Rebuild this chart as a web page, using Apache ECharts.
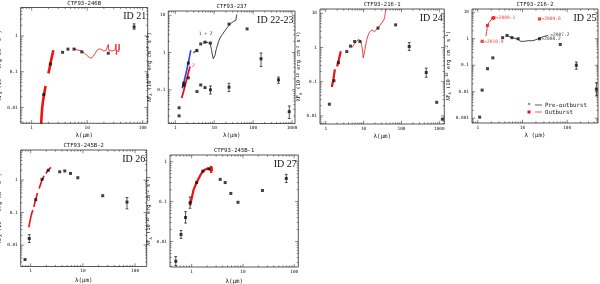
<!DOCTYPE html>
<html><head><meta charset="utf-8">
<script src="https://cdn.jsdelivr.net/npm/echarts@6/dist/echarts.min.js"></script>
<style>html,body{margin:0;padding:0;background:#fff}#c{width:600px;height:284px}</style>
</head><body><div id="c"></div>
<script>
// ================= DATA =================
const PANEL_TITLES = ['CTF93-246B','CTF93-237','CTF93-216-1','CTF93-216-2','CTF93-245B-2','CTF93-245B-1'];
const PANEL_IDS = ['ID 21','ID 22-23','ID 24','ID 25','ID 26','ID 27'];
const X_NAMES = ['λ(μm)','λ(μm)','λ(μm)','λ (μm)','λ(μm)','λ(μm)'];

// ID 21
const ID21_WL = [1.65, 2.17, 3.6, 4.5, 5.8, 8.0, 24, 70];
const ID21_F  = [0.023, 0.165, 0.35, 0.43, 0.43, 0.36, 0.33, 1.8];
const ID21_ERR = [[70, 1.55, 2.2]];
const ID21_NIRA_WL = [1.48,1.5,1.52,1.55,1.6,1.66,1.72,1.78];
const ID21_NIRA_F  = [0.0035,0.005,0.007,0.01,0.015,0.022,0.03,0.04];
const ID21_NIRB_WL = [2.0,2.08,2.16,2.24,2.32,2.4,2.45];
const ID21_NIRB_F  = [0.09,0.12,0.16,0.21,0.27,0.34,0.4];
const ID21_IRS_WL = [5.5,6,6.5,7,7.5,8,8.5,9,9.5,10,10.5,11,11.5,12,12.5,13,14,15,16.5,18,20,22,23.5,24,24.5,26,28,30,32,33,33.5,34,35,36,37,37.5,38];
const ID21_IRS_F  = [0.46,0.43,0.42,0.40,0.41,0.38,0.36,0.33,0.30,0.28,0.26,0.25,0.24,0.24,0.25,0.27,0.33,0.40,0.44,0.42,0.38,0.40,0.42,0.58,0.40,0.39,0.38,0.40,0.41,0.60,0.30,0.40,0.38,0.42,0.36,0.60,0.40];

// ID 22-23
const ID22_WL = [1.25,1.25,1.65,1.65,2.17,2.17,3.6,4.5,5.8,8.0,3.6,4.5,5.8,8.0,24,24,70,160,450,850];
const ID22_F  = [0.033,0.02,0.15,0.13,0.52,0.21,1.12,1.7,1.9,1.8,0.09,0.135,0.115,0.1,5.8,0.118,4.3,0.68,0.185,0.026];
const ID22_ERR = [[8.0,0.077,0.127],[24,0.09,0.15],[160,0.42,0.97],[450,0.15,0.22],[850,0.017,0.037]];
const ID22_IRS_WL = [5.2,5.6,6.0,6.5,7.0,7.5,8.0,8.5,9.0,9.5,10,10.5,11.2,12,13,14.5,16,18,20,22,24,26,28,31,34,36,38,38];
const ID22_IRS_F  = [1.8,1.75,1.9,1.7,1.85,1.75,1.6,1.2,0.85,0.68,0.65,0.85,1.2,1.5,2.0,2.6,3.0,3.6,4.2,4.8,5.4,5.9,6.3,6.8,7.1,7.3,7.3,10.5];
const ID22_BLUE_WL = [1.5,1.6,1.7,1.8,1.9,2.0,2.1,2.2,2.3,2.4,2.5];
const ID22_BLUE_F  = [0.11,0.14,0.18,0.23,0.29,0.37,0.47,0.59,0.74,0.93,1.15];
const ID22_BLUE2_WL = [2.9,3.1,3.3,3.5,3.7];
const ID22_BLUE2_F  = [0.97,1.05,1.1,1.15,1.24];
const ID22_RED_WL = [1.46,1.6,1.75,1.9,2.05,2.2,2.39];
const ID22_RED_F  = [0.06,0.085,0.12,0.17,0.23,0.31,0.42];
const ID22_NOTES = [[6.0, 3.2, '1 + 2', '#000'], [2.9, 0.45, '2', '#f01010']];

// ID 24
const ID24_WL = [1.25,1.65,2.17,3.6,4.5,5.8,8.0,24,70,160,450,850,1200];
const ID24_F  = [0.022,0.107,0.36,0.76,1.1,1.5,1.5,3.7,4.6,1.07,0.186,0.025,0.008];
const ID24_ERR = [[160,0.82,1.4],[450,0.135,0.25]];
const ID24_NIRA_WL = [1.45,1.5,1.55,1.6,1.65,1.7,1.75];
const ID24_NIRA_F  = [0.07,0.085,0.1,0.12,0.15,0.19,0.23];
const ID24_NIRB_WL = [2.0,2.1,2.2,2.3,2.4,2.5];
const ID24_NIRB_F  = [0.28,0.35,0.42,0.52,0.64,0.78];
const ID24_IRS_WL = [5.0,5.5,6.0,6.5,7.0,7.5,8.0,8.5,9.0,9.5,9.8,10.2,10.6,11.2,12,13,14,15,16.5,18,19.5,21,22.5,24,26,28,30,32,34,36,37,38];
const ID24_IRS_F  = [1.0,1.2,1.35,1.5,1.65,1.75,1.75,1.5,1.1,0.7,0.5,0.55,0.75,1.1,1.6,2.2,2.7,3.0,3.3,3.2,2.9,3.1,3.5,3.8,4.2,4.6,5.2,5.8,6.4,7.5,9.5,13];

// ID 25
const ID25_PRE_WL = [1.1,1.25,1.65,2.17,3.6,4.5,5.8,8.0,24,70,160,450];
const ID25_PRE_F  = [0.0011,0.0115,0.074,0.19,1.1,1.33,1.1,1.0,1.0,0.61,0.1,0.0125];
const ID25_ERR = [[160,0.071,0.133],[450,0.007,0.022]];
const ID25_IRS_WL = [4.8,5.4,5.9,6.6,7.3,8.0,8.6,9.2,9.8,10.5,11.3,12,12.7,13.8,15,16,17,18.5,20,21.5,23,25,27.5,30,32.7,35,37.6];
const ID25_IRS_F  = [1.3,1.15,1.1,1.05,1.0,0.95,0.89,0.8,0.71,0.8,0.89,0.82,0.75,0.85,0.89,0.84,0.82,0.88,0.94,0.97,1.0,1.08,1.19,1.22,1.26,1.3,1.35];
const ID25_OUT_WL = [1.25,1.65,2.17,2.3,24];
const ID25_OUT_F  = [0.8,3.2,6.0,6.2,5.6];
const ID25_OUTLINE_WL = [1.52,1.58,1.65,1.8,2.0,2.17];
const ID25_OUTLINE_F  = [1.25,1.9,3.2,4.2,5.3,6.0];
const ID25_NOTES_BLACK = [[37.6,1.4,'=2007.2'],[24,1.0,'=2008.2']];
const ID25_NOTES_RED = [[2.3,6.1,'=2009.1'],[24,5.6,'=2009.8'],[1.25,0.8,'=2010.9']];
const LEGEND_ITEMS = ['Pre-outburst','Outburst'];

// ID 26
const ID26_WL = [0.78,0.94,1.25,1.65,2.17,3.6,4.5,5.8,8.0,24,70];
const ID26_F  = [0.0036,0.016,0.25,1.05,2.0,1.8,1.9,1.6,1.18,0.33,0.21];
const ID26_ERR = [[0.94,0.012,0.021],[70,0.13,0.29]];
const ID26_SEG1_WL = [0.92,0.96,1.0,1.05,1.1];
const ID26_SEG1_F  = [0.035,0.05,0.07,0.095,0.12];
const ID26_SEG2_WL = [1.15,1.2,1.25,1.3,1.35];
const ID26_SEG2_F  = [0.15,0.2,0.25,0.32,0.4];
const ID26_SEG3_WL = [1.45,1.55,1.65,1.75,1.8];
const ID26_SEG3_F  = [0.55,0.75,1.0,1.2,1.35];
const ID26_SEG4_WL = [1.95,2.05,2.15,2.25,2.35,2.45];
const ID26_SEG4_F  = [1.6,1.8,2.0,2.15,2.3,2.45];

// ID 27
const ID27_WL = [0.49,0.62,0.76,0.93,1.25,1.65,2.17,3.6,4.5,5.8,8.0,24,70];
const ID27_F  = [0.0032,0.015,0.04,0.094,0.3,0.58,0.66,0.36,0.3,0.16,0.096,0.19,0.38];
const ID27_ERR = [[0.49,0.0025,0.0042],[0.62,0.012,0.019],[0.76,0.029,0.056],[0.93,0.068,0.13],[70,0.3,0.48]];
const ID27_RED_WL = [0.93,1.0,1.08,1.16,1.25,1.35,1.45,1.57,1.69,1.8,1.95,2.11,2.25,2.33,2.38,2.41,2.45,2.48];
const ID27_RED_F  = [0.08,0.12,0.19,0.24,0.3,0.37,0.44,0.52,0.58,0.63,0.66,0.68,0.66,0.62,0.78,0.52,0.75,0.58];

// ================= LAYOUT =================
const PANELS = [
  {L:20.7, R:147.7, T:7.5,  B:123.3, xMin:0.634, xMax:123,  yMin:0.0036, yMax:6.3,  yGap:13},
  {L:168.3,R:295,   T:11,   B:123.5, xMin:0.66,  xMax:1195, yMin:0.0125, yMax:13,   yGap:12.5},
  {L:320,  R:444.3, T:9,    B:124,   xMin:0.707, xMax:1350, yMin:0.0058, yMax:13.4, yGap:12.5},
  {L:472,  R:598,   T:9,    B:123,   xMin:0.742, xMax:489,  yMin:0.00066,yMax:13.3, yGap:15},
  {L:20.7, R:146.7, T:150,  B:266.5, xMin:0.644, xMax:167,  yMin:0.0022, yMax:8.4,  yGap:12.5},
  {L:170,  R:298.3, T:155,  B:267,   xMin:0.378, xMax:120,  yMin:0.0023, yMax:1.47, yGap:7}
];
const RED = '#f01010', BLUE = '#2d3cf0', INK = '#111';
const MONO = 'DejaVu Sans Mono';

const zip = (a, b) => a.map((v, i) => [v, b[i]]);
const fmt = v => String(+Number(v).toPrecision(6));

function scatter(i, wl, f, color, size, sym) {
  return {type:'scatter', xAxisIndex:i, yAxisIndex:i, data:zip(wl,f), symbol:sym||'rect',
    symbolSize:size||3, itemStyle:{color:color||INK}, silent:true, z:5};
}
function line(i, wl, f, color, width) {
  return {type:'line', xAxisIndex:i, yAxisIndex:i, data:zip(wl,f), showSymbol:false, symbol:'none',
    lineStyle:{color:color, width:width}, silent:true, z:4, clip:true};
}
function errs(i, arr, color) {
  return {type:'custom', xAxisIndex:i, yAxisIndex:i, data:arr, silent:true, z:5,
    encode:{x:0, y:1},
    renderItem(params, api) {
      const x = api.value(0), lo = api.value(1), hi = api.value(2);
      const a = api.coord([x, lo]), b = api.coord([x, hi]);
      const w = 1.4, st = {stroke:color||INK, lineWidth:0.7};
      return {type:'group', children:[
        {type:'line', shape:{x1:a[0],y1:a[1],x2:b[0],y2:b[1]}, style:st},
        {type:'line', shape:{x1:a[0]-w,y1:a[1],x2:a[0]+w,y2:a[1]}, style:st},
        {type:'line', shape:{x1:b[0]-w,y1:b[1],x2:b[0]+w,y2:b[1]}, style:st}
      ]};
    }};
}
function notes(i, arr, color, pos) {
  return {type:'scatter', xAxisIndex:i, yAxisIndex:i, silent:true, z:6,
    data:arr.map(n => ({value:[n[0], n[1]], name:n[2],
      label:{color: n[3] || color}})),
    symbolSize:0,
    label:{show:true, position:pos||'right', distance:2, formatter:p => p.name,
      fontFamily:MONO, fontSize:4.6, color:color}};
}
function frame(i) {
  const P = PANELS[i];
  return {type:'custom', xAxisIndex:i, yAxisIndex:i, data:[[1,1]], silent:true, z:8, clip:false,
    encode:{x:0, y:1},
    renderItem(params, api) {
      const cs = params.coordSys;
      const x0 = cs.x, y0 = cs.y, x1 = cs.x + cs.width, y1 = cs.y + cs.height;
      const st = {stroke:INK, lineWidth:0.5};
      const ch = [{type:'rect', shape:{x:x0, y:y0, width:cs.width, height:cs.height},
        style:{fill:'none', stroke:INK, lineWidth:0.7}}];
      for (let k = Math.floor(Math.log10(P.xMin)); k <= Math.ceil(Math.log10(P.xMax)); k++) {
        for (let m = 1; m <= 9; m++) {
          const v = m * Math.pow(10, k);
          if (v <= P.xMin || v >= P.xMax) continue;
          const px = api.coord([v, P.yMin])[0], L = m === 1 ? 3.2 : 1.6;
          ch.push({type:'line', shape:{x1:px, y1:y1, x2:px, y2:y1 - L}, style:st});
          ch.push({type:'line', shape:{x1:px, y1:y0, x2:px, y2:y0 + L}, style:st});
        }
      }
      for (let k = Math.floor(Math.log10(P.yMin)); k <= Math.ceil(Math.log10(P.yMax)); k++) {
        for (let m = 1; m <= 9; m++) {
          const v = m * Math.pow(10, k);
          if (v <= P.yMin || v >= P.yMax) continue;
          const py = api.coord([P.xMin, v])[1], L = m === 1 ? 3.2 : 1.6;
          ch.push({type:'line', shape:{x1:x0, y1:py, x2:x0 + L, y2:py}, style:st});
          ch.push({type:'line', shape:{x1:x1, y1:py, x2:x1 - L, y2:py}, style:st});
        }
      }
      return {type:'group', children:ch};
    }};
}

const yName = '{a|λF}{s|λ}{a| (10}{p|-10}{a| erg cm}{p|-2}{a| s}{p|-1}{a|)}';
const yRich = {
  a:{fontFamily:MONO, fontSize:5.4, color:INK, lineHeight:7},
  s:{fontFamily:MONO, fontSize:3.8, color:INK, lineHeight:7, verticalAlign:'bottom'},
  p:{fontFamily:MONO, fontSize:3.8, color:INK, lineHeight:7, verticalAlign:'top'}
};

const grids = [], xAxes = [], yAxes = [], titles = [], graphics = [];
PANELS.forEach((P, i) => {
  grids.push({left:P.L, top:P.T, width:P.R - P.L, height:P.B - P.T, containLabel:false, outerBoundsMode:'none'});
  xAxes.push({type:'log', logBase:10, gridIndex:i, min:P.xMin, max:P.xMax,
    axisLine:{show:false}, axisTick:{show:false}, splitLine:{show:false},
    axisLabel:{fontSize:4.4, color:INK, margin:2.5, fontFamily:MONO, formatter:fmt, showMinLabel:false, showMaxLabel:false},
    name:X_NAMES[i], nameLocation:'middle', nameGap: i < 4 ? 9 : 11,
    nameTextStyle:{fontFamily:MONO, fontSize:5.8, color:INK}});
  yAxes.push({type:'log', logBase:10, gridIndex:i, min:P.yMin, max:P.yMax,
    axisLine:{show:false}, axisTick:{show:false}, splitLine:{show:false},
    axisLabel:{fontSize:4.4, color:INK, margin:3, fontFamily:MONO, formatter:fmt, showMinLabel:false, showMaxLabel:false},
    name:yName, nameLocation:'middle', nameGap:P.yGap, nameRotate:90,
    nameTextStyle:{rich:yRich}});
  titles.push({text:PANEL_TITLES[i], left:(P.L + P.R) / 2, top:Math.max(0.5, P.T - 7.5), textAlign:'center', padding:0,
    textStyle:{fontFamily:MONO, fontSize:5.6, fontWeight:'normal', color:INK}});
  graphics.push({type:'text', x:P.R - 1.5, y:P.T + 9, z:20,
    style:{text:PANEL_IDS[i], fontFamily:'Liberation Serif', fontSize:10, fill:INK,
      textAlign:'right', textVerticalAlign:'middle'}});
});

// legend (panel 4)
graphics.push(
  {type:'text', x:529, y:105, style:{text:'*', fontFamily:MONO, fontSize:6, fill:INK, textAlign:'center', textVerticalAlign:'middle'}},
  {type:'line', shape:{x1:535, y1:105, x2:542, y2:105}, style:{stroke:INK, lineWidth:0.7}},
  {type:'text', x:545, y:105, style:{text:LEGEND_ITEMS[0], fontFamily:MONO, fontSize:5.8, fill:INK, textVerticalAlign:'middle'}},
  {type:'rect', shape:{x:527.5, y:110.5, width:3, height:3}, style:{fill:RED}},
  {type:'line', shape:{x1:535, y1:112, x2:542, y2:112}, style:{stroke:RED, lineWidth:0.7}},
  {type:'text', x:545, y:112, style:{text:LEGEND_ITEMS[1], fontFamily:MONO, fontSize:5.8, fill:INK, textVerticalAlign:'middle'}}
);

const series = [
  // ID 21
  line(0, ID21_NIRA_WL, ID21_NIRA_F, RED, 2.6),
  line(0, ID21_NIRB_WL, ID21_NIRB_F, RED, 2.6),
  line(0, ID21_IRS_WL, ID21_IRS_F, RED, 0.8),
  scatter(0, ID21_WL, ID21_F), errs(0, ID21_ERR), frame(0),
  // ID 22-23
  line(1, ID22_IRS_WL, ID22_IRS_F, INK, 0.8),
  line(1, ID22_BLUE_WL, ID22_BLUE_F, BLUE, 1.6),
  line(1, ID22_BLUE2_WL, ID22_BLUE2_F, '#6a4fd0', 1.6),
  line(1, ID22_RED_WL, ID22_RED_F, RED, 1.8),
  scatter(1, ID22_WL, ID22_F), errs(1, ID22_ERR), notes(1, ID22_NOTES, INK, 'inside'), frame(1),
  // ID 24
  line(2, ID24_NIRA_WL, ID24_NIRA_F, RED, 2.2),
  line(2, ID24_NIRB_WL, ID24_NIRB_F, RED, 2.2),
  line(2, ID24_IRS_WL, ID24_IRS_F, RED, 0.8),
  scatter(2, ID24_WL, ID24_F), errs(2, ID24_ERR), frame(2),
  // ID 25
  line(3, ID25_IRS_WL, ID25_IRS_F, INK, 0.8),
  line(3, ID25_OUTLINE_WL, ID25_OUTLINE_F, RED, 0.8),
  scatter(3, ID25_PRE_WL, ID25_PRE_F), errs(3, ID25_ERR),
  scatter(3, ID25_OUT_WL, ID25_OUT_F, RED, 3.2),
  notes(3, ID25_NOTES_BLACK, INK), notes(3, ID25_NOTES_RED, RED), frame(3),
  // ID 26
  line(4, ID26_SEG1_WL, ID26_SEG1_F, RED, 1.6),
  line(4, ID26_SEG2_WL, ID26_SEG2_F, RED, 1.6),
  line(4, ID26_SEG3_WL, ID26_SEG3_F, RED, 1.6),
  line(4, ID26_SEG4_WL, ID26_SEG4_F, RED, 1.6),
  scatter(4, ID26_WL, ID26_F), errs(4, ID26_ERR), frame(4),
  // ID 27
  line(5, ID27_RED_WL, ID27_RED_F, RED, 2.2),
  scatter(5, ID27_WL, ID27_F), errs(5, ID27_ERR), frame(5)
];

const chart = echarts.init(document.getElementById('c'), null, {renderer:'canvas'});
chart.setOption({
  animation:false, backgroundColor:'#fff',
  title:titles, grid:grids, xAxis:xAxes, yAxis:yAxes, series:series, graphic:graphics
});
</script></body></html>
